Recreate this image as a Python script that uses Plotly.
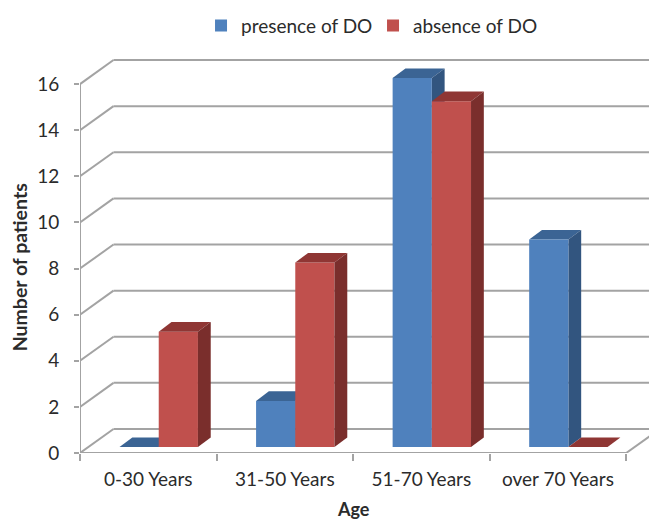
import plotly.graph_objects as go

categories = ["0-30 Years", "31-50 Years", "51-70 Years", "over 70 Years"]
presence = [0, 2, 16, 9]
absence = [5, 8, 15, 0]
y_ticks = [0, 2, 4, 6, 8, 10, 12, 14, 16]

FONT = "Lato, Carlito, Calibri, sans-serif"
TXT = "#2b2b2b"
GRID = "#a3a3a3"
W, H = 649, 520
L, T, B = 80, 55, 67.3
CAT_PX = 136.55
UNIT_PX = 23.04
X0 = -0.5
XMAX = X0 + (W - L) / CAT_PX
YMAX = (H - B - T) / UNIT_PX

WALL_DX = 33.5 / CAT_PX
WALL_DY = 24 / UNIT_PX
BASE = 0.26
BAR_W = 39.2 / CAT_PX
OFF_BLUE = -0.2105
OFF_RED = OFF_BLUE + BAR_W
DEP_X = 12.8 / CAT_PX
DEP_Y = 9.6 / UNIT_PX


def line(x0, y0, x1, y1, color=GRID, width=2, layer="below"):
    return dict(type="line", xref="x", yref="y", x0=x0, y0=y0, x1=x1, y1=y1,
                line=dict(color=color, width=width), layer=layer)


def poly(points, color, layer):
    path = "M" + " L".join(f"{x:.4f},{y:.4f}" for x, y in points) + " Z"
    return dict(type="path", xref="x", yref="y", path=path, fillcolor=color,
                line=dict(width=0), layer=layer)


def faces(values, offset, top_col, side_col, layer):
    out = []
    for i, v in enumerate(values):
        a = i + offset
        b = a + BAR_W
        t = BASE + v
        out.append(poly([(a, t), (b, t), (b + DEP_X, t + DEP_Y), (a + DEP_X, t + DEP_Y)], top_col, layer))
        if v > 0:
            out.append(poly([(b, BASE), (b + DEP_X, BASE + DEP_Y), (b + DEP_X, t + DEP_Y), (b, t)], side_col, layer))
    return out


shapes = []
for v in y_ticks:
    shapes.append(line(X0, v, X0 + WALL_DX, v + WALL_DY))
    shapes.append(line(X0 + WALL_DX, v + WALL_DY, XMAX, v + WALL_DY))
shapes.append(line(X0, 0, X0, y_ticks[-1]))
shapes.append(line(X0, 0, X0 + len(categories), 0))
shapes.append(line(X0 + len(categories), 0, X0 + len(categories) + WALL_DX, WALL_DY))
shapes += faces(presence, OFF_BLUE, "#3b6494", "#32557f", "below")
shapes += faces(absence, OFF_RED, "#8f3634", "#7a2e2c", "above")

fig = go.Figure()
fig.add_bar(x=categories, y=presence, base=BASE, name="presence of DO", width=BAR_W, offset=OFF_BLUE,
            marker=dict(color="#4f81bd", line=dict(width=0)))
fig.add_bar(x=categories, y=absence, base=BASE, name="absence of DO", width=BAR_W, offset=OFF_RED,
            marker=dict(color="#c0504d", line=dict(width=0)))

fig.update_layout(
    width=W, height=H, autosize=False,
    margin=dict(l=L, r=0, t=T, b=B, pad=0),
    paper_bgcolor="white", plot_bgcolor="white",
    barmode="overlay",
    font=dict(family=FONT, size=19, color=TXT),
    showlegend=True,
    legend=dict(orientation="h", x=0.2127, xref="paper", y=0.987, yref="container", yanchor="top", xanchor="left",
                entrywidth=127, entrywidthmode="pixels",
                font=dict(size=19, color=TXT), traceorder="normal", bgcolor="rgba(0,0,0,0)"),
    shapes=shapes,
    xaxis=dict(type="category", categoryorder="array", categoryarray=categories,
               range=[X0, XMAX], tickson="boundaries", ticks="outside", ticklen=7, tickwidth=2,
               ticklabelstandoff=13, tickcolor=GRID, showgrid=False, showline=False, zeroline=False),
    yaxis=dict(range=[0, YMAX], tickvals=y_ticks, ticks="outside", ticklen=5, tickwidth=2,
               ticklabelstandoff=11, tickcolor=GRID, showgrid=False, showline=False, zeroline=False),
    annotations=[
        dict(text="<b>Age</b>", xref="x", yref="paper", x=1.5, y=0, yshift=-56, showarrow=False,
             font=dict(size=18, color=TXT), yanchor="middle"),
        dict(text="<b>Number of patients</b>", xref="paper", yref="y", x=0, xshift=-74, y=8.03, showarrow=False,
             textangle=-90, font=dict(size=19.5, color=TXT)),
    ],
)
fig.write_html("out.html", config=dict(displayModeBar=False),
               post_script="document.body.style.margin='0';document.body.style.overflow='hidden';")
